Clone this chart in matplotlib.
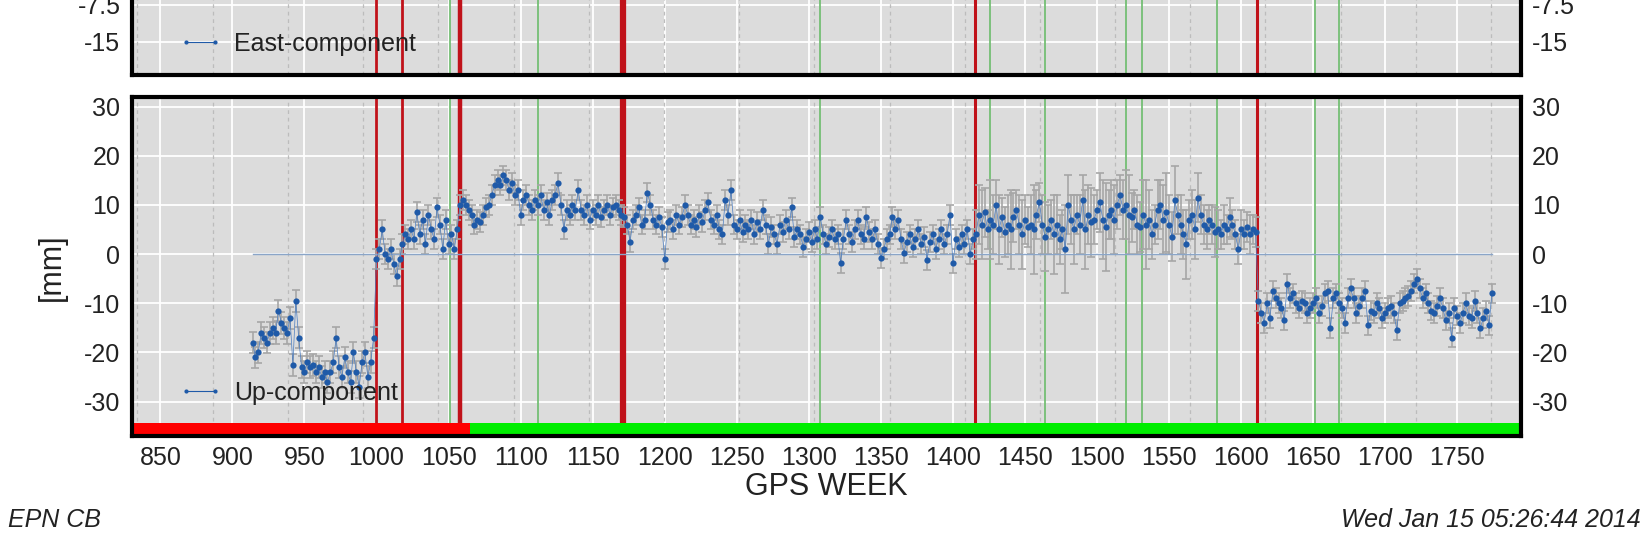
import numpy as np
import matplotlib
matplotlib.use("Agg")
import matplotlib.pyplot as plt
from matplotlib.lines import Line2D
from matplotlib.ticker import FuncFormatter

plt.rcParams['font.family'] = ['Liberation Sans', 'DejaVu Sans']
plt.rcParams['axes.unicode_minus'] = False

# ---------------- data ----------------
# Up component [mm], one value every 2 GPS weeks per segment
seg_A_start = 914
seg_A = [-18, -21, -20, -16, -17, -18, -16, -15, -16, -11.5,
         -14, -15, -16, -13, -22.5, -9.5, -17, -23, -24, -22,
         -23, -22.5, -24, -23, -25, -24, -26, -24, -22, -17,
         -23, -25, -21, -24, -26, -20, -24, -27, -22, -20,
         -25, -22, -17]
seg_A_err = 2.2

seg_B_start = 1000
seg_B = [-1, 1, 5, 0, -1, 1, -2, -4.5, -1]
seg_B_err = 2.0

seg_C_start = 1018
seg_C = [2, 4, 3, 5, 3, 8.5, 4, 7, 2, 8,
         5, 3, 9.5, 6, 1, 7, 2, 4, 1, 5]
seg_C_err = 2.0

seg_D_start = 1058
seg_D = [10, 11, 10, 9, 8, 6, 7, 6.5, 8, 9.5,
         10, 12, 14, 15, 14, 16, 15, 13, 14.5, 12,
         13, 8, 11, 12, 10, 9, 11, 10, 12, 9,
         10.5, 8, 11, 12, 14.5, 10, 5, 9, 8, 10,
         9, 13, 9, 8, 10, 7, 9, 8, 10, 7.5,
         9, 10, 8, 9.5, 10, 9, 8]
seg_D_err = 2.0

seg_E_start = 1172
seg_E = [7.5, 6, 2.5, 7, 8, 9.5, 6, 7, 12.5, 10,
         7, 6, 7.5, 5.5, -1, 6.5, 7, 5, 8, 6,
         7.5, 10, 8, 6, 7, 5.5, 8, 6.5, 9, 10.5,
         7, 6, 8, 5, 4, 11, 8, 13, 6, 5,
         7, 4.5, 6, 5, 7, 4, 6.5, 5, 9, 6,
         2, 5.5, 4, 2, 6, 4.5, 7, 5, 9.5, 3.5,
         5, 4, 1.5, 3, 4.5, 2.5, 5, 3, 7.5, 4,
         2, 3.5, 5, 3, 4, -1.8, 3, 7, 4, 2.5,
         5, 7, 4, 3, 7.5, 4.5, 3, 5, 2, -0.8,
         1, 3, 4, 7.5, 5, 7, 3, 0.2, 2.5, 4,
         1.5, 3, 5, 2, 3.5, -1.2, 2.5, 4, 1, 3,
         5, 2, 4, 8, -1.9, 3, 1.5, 4, 2, 5,
         0, 3]
seg_E_err = 2.0

seg_F_start = 1416
seg_F = [(4, 5), (8, 6), (6, 7), (8.5, 5), (5, 4), (7, 8), (6, 6), (10, 5), (5, 7), (7.5, 4),
         (4.5, 5), (6, 6), (5, 8), (7.5, 5), (9, 4), (6, 6), (4, 7), (7, 5), (5.5, 4), (6, 6),
         (5, 9), (8, 5), (10.5, 4), (6, 6), (3.5, 7), (5, 5), (7, 4), (4, 8), (6, 6), (3, 5),
         (5, 4), (1, 9), (10, 6), (7, 5), (5, 7), (8, 4), (6, 6), (11, 5), (5, 8), (8, 6),
         (6.5, 7), (7, 5), (9, 4), (10.5, 6), (7, 8), (5.5, 9), (8, 5), (9, 6), (7, 7), (10, 5),
         (12, 4), (9, 6), (10, 7), (8, 8), (7.5, 5), (9, 4), (6, 6), (5.5, 5), (8, 7), (6, 9),
         (7, 6), (4, 5), (6, 4), (9, 6), (10, 5), (7, 7), (8.5, 8), (6, 6), (3.5, 5), (11, 7),
         (8, 4), (6, 6), (4, 5), (2, 7), (7, 4), (8, 5), (5, 6), (11.5, 5), (8, 4), (6, 4),
         (5, 4), (7, 3), (6, 4), (4.5, 5), (5, 4), (4, 3), (6, 4), (5, 3), (7.5, 4), (6, 3),
         (4, 3), (1, 3), (5, 4), (4, 3), (5.5, 3), (4, 4), (5, 3), (4.5, 3)]

seg_G_start = 1612
seg_G = [-9.5, -12, -14, -10, -13, -7.5, -9, -10, -11, -13.5,
         -6, -9, -8, -10, -11, -9.5, -10, -12, -11, -10,
         -9, -12, -10.5, -8, -7.5, -15, -9, -8, -10, -11,
         -14, -9, -7, -9, -12, -10.5, -9, -7.5, -14.5, -11.5,
         -12, -10, -11, -13, -12, -11, -10.5, -12, -15.5, -10,
         -9.5, -9, -8.5, -7.5, -6, -5, -7, -9, -8, -10,
         -11.5, -12, -10.5, -9, -11, -13.5, -12, -17, -11, -12.5,
         -14, -12, -10, -12.5, -13, -9.5, -12, -15, -13, -11.5,
         -14.5, -8]
seg_G_err = 2.0

week_step = 2

zero_line_weeks = [914, 1774]
zero_line_vals = [0, 0]

red_weeks = [1000, 1018, 1058, 1171, 1415.5, 1611]
green_weeks = [1051, 1112, 1308, 1425.5, 1464, 1520, 1531, 1583, 1651, 1668]
year_start_weeks = [834.1, 886.4, 938.6, 990.7, 1042.9, 1095.1, 1147.3, 1199.4,
                    1251.6, 1303.9, 1356.0, 1408.1, 1460.3, 1512.6, 1564.7,
                    1616.9, 1669.0, 1721.3, 1773.4]
status_edges = [830, 1065, 1794]
status_colors = ['#ff0000', '#00ee00']

x_ticks = list(range(850, 1751, 50))
up_ticks = [-30, -20, -10, 0, 10, 20, 30]
east_ticks = [-15, -7.5, 0, 7.5, 15]

# ---------------- assemble series ----------------
weeks, vals, errs = [], [], []
for start, seg, err in [(seg_A_start, seg_A, seg_A_err), (seg_B_start, seg_B, seg_B_err),
                        (seg_C_start, seg_C, seg_C_err), (seg_D_start, seg_D, seg_D_err),
                        (seg_E_start, seg_E, seg_E_err)]:
    for i, v in enumerate(seg):
        weeks.append(start + week_step * i); vals.append(v); errs.append(err)
for i, (v, e) in enumerate(seg_F):
    weeks.append(seg_F_start + week_step * i); vals.append(v); errs.append(e)
for i, v in enumerate(seg_G):
    weeks.append(seg_G_start + week_step * i); vals.append(v); errs.append(seg_G_err)
weeks = np.array(weeks); vals = np.array(vals); errs = np.array(errs)

# ---------------- styling ----------------
W, H = 1642, 545
fig = plt.figure(figsize=(W / 100, H / 100), dpi=100, facecolor='white')

left = 131.5 / W
width = (1520.7 - 131.5) / W
up_bot = (H - 436) / H
up_h = (436 - 96.7) / H
east_ylim = (-21.8, 22)
east_px = (east_ylim[1] - east_ylim[0]) * 4.917
east_bot = (H - 75) / H
east_h = east_px / H

ax_e = fig.add_axes([left, east_bot, width, east_h])
ax_u = fig.add_axes([left, up_bot, width, up_h])

bg = '#dcdcdc'
red_w = [2.0, 2.0, 3.2, 4.5, 2.2, 2.2]
txt_col = '#222222'
pt_col = '#1f5aa8'

for ax in (ax_e, ax_u):
    ax.set_facecolor(bg)
    ax.set_xlim(status_edges[0], status_edges[-1])
    ax.set_xticks(x_ticks)
    ax.grid(True, color='white', lw=1.3, zorder=0)
    ax.set_axisbelow(True)
    for yw in year_start_weeks:
        ax.axvline(yw, color='#bcbcbc', lw=0.9, ls=(0, (3, 3)), zorder=1)
    for gw in green_weeks:
        ax.axvline(gw, color='#74bf74', lw=1.3, zorder=2)
    for rw, lw in zip(red_weeks, red_w):
        ax.axvline(rw, color='#c0121a', lw=lw, zorder=2.5)
    for s in ax.spines.values():
        s.set_linewidth(3)
        s.set_color('black')
        s.set_zorder(10)
    ax.tick_params(axis='both', length=0, labelsize=18, labelcolor=txt_col)
    ax.tick_params(axis='y', labelright=True, pad=8)

# East panel (only its bottom part is visible)
ax_e.set_ylim(*east_ylim)
ax_e.set_yticks(east_ticks)
ax_e.yaxis.set_major_formatter(FuncFormatter(lambda v, p: '%g' % v))
ax_e.tick_params(axis='x', labelbottom=False)
h_e = Line2D([], [], color=pt_col, lw=0.8, marker='o', ms=3, mec='none')
ax_e.legend([h_e], ['East-component'], loc='center left',
            bbox_to_anchor=((178 - 131.5) / (1520.7 - 131.5), (75 - 44) / east_px),
            frameon=False, borderpad=0, borderaxespad=0, handlelength=1.76,
            handletextpad=0.5, numpoints=2, fontsize=18, labelcolor=txt_col)

# Up panel
ax_u.set_ylim(-37, 32)
ax_u.set_yticks(up_ticks)
ax_u.tick_params(axis='x', pad=7)
ax_u.errorbar(weeks, vals, yerr=errs, fmt='none', ecolor='#a6a6a6', elinewidth=1.2,
              capsize=3, capthick=1.2, zorder=3)
ax_u.plot(zero_line_weeks, zero_line_vals, color='#8aa5c8', lw=1.0, zorder=3.5)
ax_u.plot(weeks, vals, '-', color='#4a7cc0', lw=0.5, zorder=4)
ax_u.plot(weeks, vals, 'o', color=pt_col, ms=4.5, mec='none', zorder=5)

for i, c in enumerate(status_colors):
    ax_u.broken_barh([(status_edges[i], status_edges[i + 1] - status_edges[i])],
                     (-37, 2.6), facecolors=c, zorder=6)

h_u = Line2D([], [], color=pt_col, lw=0.8, marker='o', ms=3, mec='none')
ax_u.legend([h_u], ['Up-component'], loc='center left',
            bbox_to_anchor=((178 - 131.5) / (1520.7 - 131.5), (436 - 392.7) / (436 - 96.7)),
            frameon=False, borderpad=0, borderaxespad=0, handlelength=1.76,
            handletextpad=0.5, numpoints=2, fontsize=18, labelcolor=txt_col)

fig.text(826 / W, 1 - 487 / H, 'GPS WEEK', ha='center', va='center', fontsize=22, color=txt_col)
fig.text(52 / W, 1 - 267 / H, '[mm]', ha='center', va='center', rotation=90, fontsize=22, color=txt_col)
fig.text(8 / W, 1 - 520 / H, 'EPN CB', ha='left', va='center', fontsize=18,
         style='italic', color=txt_col)
fig.text(1641 / W, 1 - 520 / H, 'Wed Jan 15 05:26:44 2014', ha='right', va='center',
         fontsize=18, style='italic', color=txt_col)

fig.savefig('out.png', dpi=100, facecolor='white')
